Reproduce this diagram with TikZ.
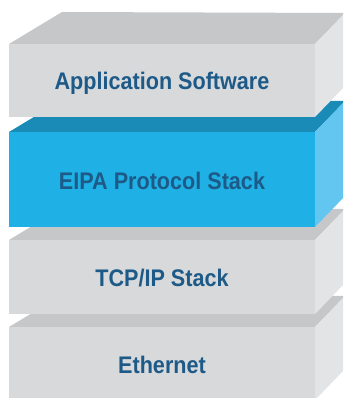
\documentclass[tikz,border=0pt]{standalone}
\usepackage{fontspec}
\setmainfont{Liberation Sans}[FakeStretch=0.9]
\definecolor{greyfront}{HTML}{D8D9DB}
\definecolor{greytop}{HTML}{C6C7C9}
\definecolor{greyside}{HTML}{E3E4E6}
\definecolor{bluefront}{HTML}{1FB1E6}
\definecolor{bluetop}{HTML}{1A8BB6}
\definecolor{blueside}{HTML}{63C6F0}
\definecolor{labelblue}{HTML}{1D5A87}
\tikzset{
  layertext/.style={font=\bfseries\fontsize{24}{24}\selectfont, text=labelblue, anchor=base, inner sep=0pt},
}
% one slab of the stack: name, top, bottom, front, top face, side, label
\newcommand{\stacklayer}[7]{%
  \fill[#5] (9,#2) -- (62,#2-32) -- (345,#2-31) -- (315,#2) -- cycle;
  \fill[#6] (315,#2) -- (345,#2-31) -- (345,#3-31) -- (315,#3) -- cycle;
  \fill[#4] (9,#2) rectangle (315,#3);
  \node[layertext] (#1) at (162,{(#2+#3)/2+9.5}) {#7};
}
\begin{document}
\begin{tikzpicture}[x=1pt,y=-1pt]
\useasboundingbox (0,0) rectangle (343,398);
\clip (0,0) rectangle (343,398);
\stacklayer{ethernet}{327}{400}{greyfront}{greytop}{greyside}{Ethernet}
\stacklayer{tcpip}{240}{314}{greyfront}{greytop}{greyside}{TCP/IP Stack}
\stacklayer{eipa}{132}{227}{bluefront}{bluetop}{blueside}{EIPA Protocol Stack}
\stacklayer{app}{44}{117}{greyfront}{greytop}{greyside}{Application Software}
\end{tikzpicture}
\end{document}
